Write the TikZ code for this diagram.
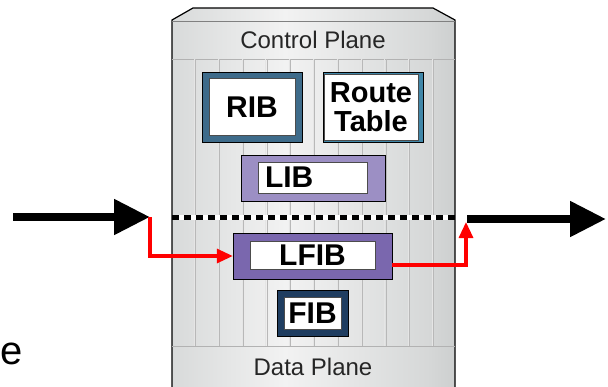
\documentclass[tikz,border=0pt]{standalone}
\usepackage{fontspec}
\setmainfont{Liberation Sans}
\usetikzlibrary{arrows.meta,positioning}
\definecolor{cabA}{HTML}{A0A5A5}
\definecolor{cabB}{HTML}{D8DADA}
\definecolor{cabC}{HTML}{F2F2F2}
\definecolor{cabD}{HTML}{D6D8D8}
\definecolor{cabE}{HTML}{B0B4B4}
\definecolor{cabF}{HTML}{767C7C}
\definecolor{ribblue}{HTML}{3E6B8A}
\definecolor{rtblue}{HTML}{3F86A8}
\definecolor{libpurple}{HTML}{9C8FC4}
\definecolor{lfibpurple}{HTML}{7A67AE}
\definecolor{fibnavy}{HTML}{1F3D60}
\definecolor{pathred}{HTML}{FF0000}
\pgfdeclarehorizontalshading{cabinet}{100bp}{color(0bp)=(cabA); color(25bp)=(cabB);
  color(45bp)=(cabC); color(70bp)=(cabD); color(90bp)=(cabE); color(100bp)=(cabF)}

\begin{document}
\begin{tikzpicture}[x=1pt, y=-1pt,
    every node/.style={font=\fontsize{30}{32}\selectfont\bfseries, align=center, inner sep=0pt},
    frame/.style={draw=black, thin, fill=#1},
    pane/.style={draw=black!70, very thin, fill=white},
    plane/.style={font=\fontsize{24}{26}\selectfont, text=black!85},
    flow/.style={-{Triangle[length=36pt, width=34pt]}, line width=8pt, black},
    redflow/.style={-{Triangle[length=16pt, width=14pt]}, line width=3.2pt, pathred}]
  \useasboundingbox (0,0) rectangle (608,386);

  % cabinet body
  \shade[shading=cabinet, draw=black, line width=1.2pt]
    (172,390) -- (172,20) -- (193,8) -- (433,8) -- (455,20) -- (455,390);
  \draw[black!50, thin] (172,21) -- (455,21);
  \draw[black!30, line width=1pt] (172,59) -- (455,59);
  \draw[black!30, line width=1pt] (172,346) -- (455,346);
  \foreach \i in {0,...,10} {
    \draw[white!90!black, line width=1pt] ({194.5+23.8*\i},59) -- ({194.5+23.8*\i},346);
    \draw[black!28, line width=0.7pt] ({195.5+23.8*\i},59) -- ({195.5+23.8*\i},346);
  }

  \node[plane] (cp) at (313,40) {Control Plane};
  \node[plane] (dp) at (313,367) {Data Plane};

  % tables
  \node[frame=ribblue, minimum width=100pt, minimum height=70pt] (ribout) at (252,107) {};
  \node[pane, minimum width=86pt, minimum height=57pt] (rib) at (ribout.center) {RIB};
  \node[frame=rtblue, minimum width=100pt, minimum height=70pt] (rtout) at (373,107) {};
  \node[pane, minimum width=94pt, minimum height=66pt, font=\fontsize{29}{29}\selectfont\bfseries]
    (rt) at (371,107) {Route\\Table};
  \node[frame=libpurple, minimum width=144pt, minimum height=46pt] (libout) at (313,178) {};
  \node[pane, minimum height=31pt, text width=95pt, inner xsep=7pt, align=left]
    (lib) at (312.5,177.5) {LIB};
  \node[frame=lfibpurple, minimum width=159pt, minimum height=46pt] (lfibout) at (312.5,256) {};
  \node[pane, minimum width=125pt, minimum height=28pt] (lfib) at (312.5,255) {LFIB};
  \node[frame=fibnavy, minimum width=71pt, minimum height=46pt] (fibout) at (312.5,313) {};
  \node[pane, minimum width=57pt, minimum height=32pt] (fib) at (fibout.center) {FIB};

  % boundary between the planes
  \coordinate (cabL) at (172,217);
  \coordinate (cabR) at (455,217);
  \draw[white, line width=5pt] (cabL) -- (cabR);
  \draw[black, line width=5pt, dash pattern=on 7pt off 5pt] (cabL) -- (cabR);

  % packet in and out
  \coordinate (inStart) at (13,217);
  \coordinate (inEnd) at (150,217);
  \coordinate (outStart) at (467,219);
  \coordinate (outEnd) at (606,219);
  \coordinate (outUp) at (466,222);
  \draw[flow] (inStart) -- (inEnd);
  \draw[flow] (outStart) -- (outEnd);
  \draw[redflow] (inEnd) |- (lfibout.west);
  \draw[redflow] ([yshift=-9pt]lfibout.east) -| (outUp);

  \node[font=\fontsize{40}{40}\selectfont, anchor=base west] (cut) at (0,364) {e};
\end{tikzpicture}
\end{document}
